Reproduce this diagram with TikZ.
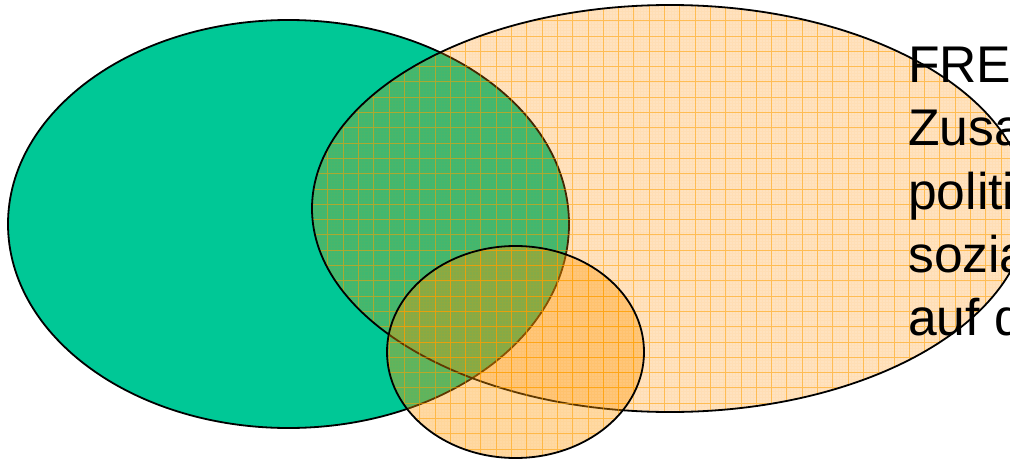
\documentclass[tikz,border=0pt]{standalone}
\usepackage{fontspec}
\setmainfont{Liberation Sans}
\definecolor{vgreen}{RGB}{0,200,150}
\definecolor{vpeach}{RGB}{255,140,0}
\definecolor{vorange}{RGB}{255,150,0}
\definecolor{vgrid}{RGB}{255,160,0}
\begin{document}
\begin{tikzpicture}[x=1pt,y=-1pt,
  outline/.style={draw=black,line width=1.8pt},
  majorgrid/.style={draw=vgrid,draw opacity=0.55,line width=0.9pt,step=15.3pt,shift={(6.6,5.4)}},
  minorgrid/.style={draw=vgrid,draw opacity=0.05,line width=0.25pt,step=3.06pt,shift={(6.6,5.4)}},
  txt/.style={anchor=base west,inner sep=0pt,font=\fontsize{51.6}{60}\selectfont}]
\useasboundingbox (0,0) rectangle (1010,461);
% green ellipse
\path[fill=vgreen,outline] (288.5,224) ellipse [x radius=280.5,y radius=204];
% large peach ellipse
\begin{scope}
  \fill[vpeach,fill opacity=0.25] (670,208.5) ellipse [x radius=358,y radius=203.5];
  \clip (670,208.5) ellipse [x radius=358,y radius=203.5];
  \draw[minorgrid] (-20,-20) grid (1060,480);
  \draw[majorgrid] (-20,-20) grid (1060,480);
\end{scope}
\draw[outline] (670,208.5) ellipse [x radius=358,y radius=203.5];
% small orange ellipse
\begin{scope}
  \fill[vorange,fill opacity=0.36] (515.5,352) ellipse [x radius=128.5,y radius=106];
  \clip (515.5,352) ellipse [x radius=128.5,y radius=106];
  \draw[minorgrid] (-20,-20) grid (1060,480);
  \draw[majorgrid] (-20,-20) grid (1060,480);
\end{scope}
\draw[outline] (515.5,352) ellipse [x radius=128.5,y radius=106];
% text
\node[txt] (l1) at (908,82) {FRE};
\node[txt] (l2) at (908,145) {Zusa};
\node[txt] (l3) at (908,209) {politi};
\node[txt] (l4) at (908,272) {sozia};
\node[txt] (l5) at (908,335) {auf d};
\end{tikzpicture}
\end{document}
